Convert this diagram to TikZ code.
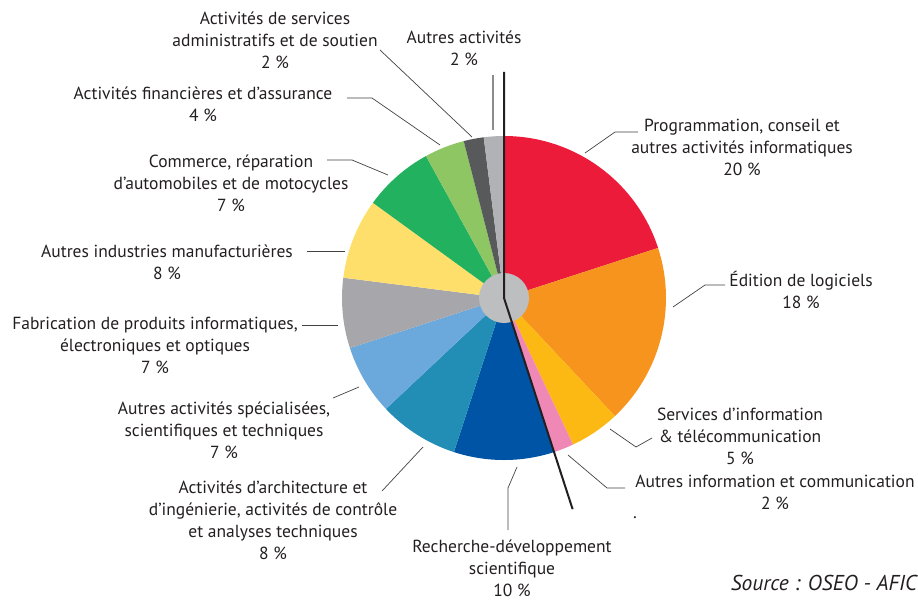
\documentclass[tikz,border=0pt]{standalone}
\usepackage{fontspec}
\usetikzlibrary{calc}
\setmainfont{PT Sans}
\definecolor{cRed}{HTML}{ED1B3A}
\definecolor{cOrange}{HTML}{F7941E}
\definecolor{cYellow}{HTML}{FDB913}
\definecolor{cPink}{HTML}{F088B5}
\definecolor{cBlue}{HTML}{0054A6}
\definecolor{cTeal}{HTML}{238EB5}
\definecolor{cLBlue}{HTML}{6BA8DC}
\definecolor{cGrey}{HTML}{A7A6AB}
\definecolor{cLYellow}{HTML}{FFDF6B}
\definecolor{cGreen}{HTML}{22B15F}
\definecolor{cLGreen}{HTML}{8DC663}
\definecolor{cDGrey}{HTML}{58595B}
\definecolor{cLGrey}{HTML}{B1B2B5}
\definecolor{cCenter}{HTML}{BCBEC0}
\definecolor{cText}{HTML}{231F20}
\tikzset{
  lbl/.style={align=center, text=cText, font=\fontsize{17.5}{22}\selectfont, inner sep=0pt},
  leader/.style={draw=cText!85, line width=0.7pt},
}
\newcommand{\pieslice}[3]{\fill[#3] (ctr) -- ++(#1:162) arc[start angle=#1, end angle=#2, radius=162] -- cycle;}
\begin{document}
\begin{tikzpicture}[x=1pt,y=-1pt]
\useasboundingbox (0,0) rectangle (918,602);
\coordinate (ctr) at (504,298);
\pieslice{-90}{-18}{cRed}
\pieslice{-18}{46.8}{cOrange}
\pieslice{46.8}{64.8}{cYellow}
\pieslice{64.8}{72}{cPink}
\pieslice{72}{108}{cBlue}
\pieslice{108}{136.8}{cTeal}
\pieslice{136.8}{162}{cLBlue}
\pieslice{162}{187.2}{cGrey}
\pieslice{187.2}{216}{cLYellow}
\pieslice{216}{241.2}{cGreen}
\pieslice{241.2}{255.6}{cLGreen}
\pieslice{255.6}{262.8}{cDGrey}
\pieslice{262.8}{270}{cLGrey}
\node[circle, fill=cCenter, minimum size=50pt, inner sep=0pt] (hub) at (ctr) {};
\coordinate (topend) at (504,72);
\coordinate (botend) at ($(ctr)+(72:222)$);
\draw[cText, line width=2pt] (topend) -- (ctr) -- (botend);

% labels
\node[lbl] (l1) at (275,40) {Activités de services\\administratifs et de soutien\\2 \%};
\node[lbl] (l2) at (464,48) {Autres activités\\2 \%};
\node[lbl] (l3) at (203,104) {Activités financières et d’assurance\\4 \%};
\node[lbl] (l4) at (231,183) {Commerce, réparation\\d’automobiles et de motocycles\\7 \%};
\node[lbl] (l5) at (167,262) {Autres industries manufacturières\\8 \%};
\node[lbl] (l6) at (155,345) {Fabrication de produits informatiques,\\électroniques et optiques\\7 \%};
\node[lbl] (l7) at (224,430) {Autres activités spécialisées,\\scientifiques et techniques\\7 \%};
\node[lbl] (l8) at (273,520) {Activités d’architecture et\\d’ingénierie, activités de contrôle\\et analyses techniques\\8 \%};
\node[lbl] (l9) at (512,568) {Recherche-développement\\scientifique\\10 \%};
\node[lbl] (l10) at (775,492) {Autres information et communication\\2 \%};
\node[lbl] (l11) at (740,436) {Services d’information\\\& télécommunication\\5 \%};
\node[lbl] (l12) at (801,290) {Édition de logiciels\\18 \%};
\node[lbl] (l13) at (742,147) {Programmation, conseil et\\autres activités informatiques\\20 \%};
\node[lbl] (dot) at (635,518) {.};
\node[lbl, anchor=east, font=\fontsize{21.5}{24}\selectfont\itshape] (src) at (917,583) {Source : OSEO - AFIC};

% leader lines
\coordinate (a1) at (380,50);  \coordinate (b1) at (472,137);
\draw[leader] (a1) -- (b1);
\coordinate (a3) at (347,98);  \coordinate (k3) at (372,98);  \coordinate (b3) at (440,145);
\draw[leader] (a3) -- (k3) -- (b3);
\coordinate (a4) at (327,160); \coordinate (k4) at (352,160); \coordinate (b4) at (388,175);
\draw[leader] (a4) -- (k4) -- (b4);
\coordinate (a5) at (307,251); \coordinate (b5) at (345,251);
\draw[leader] (a5) -- (b5);
\coordinate (a6) at (302,325); \coordinate (b6) at (338,325);
\draw[leader] (a6) -- (b6);
\coordinate (a7) at (333,398); \coordinate (b7) at (359,387);
\draw[leader] (a7) -- (b7);
\coordinate (a8) at (382,491); \coordinate (b8) at (423,447);
\draw[leader] (a8) -- (b8);
\coordinate (a9) at (508,530); \coordinate (k9) at (508,488); \coordinate (b9) at (517,467);
\draw[leader] (a9) -- (k9) -- (b9);
\coordinate (a10) at (625,488); \coordinate (k10) at (607,488); \coordinate (b10) at (568,455);
\draw[leader] (a10) -- (k10) -- (b10);
\coordinate (a11) at (652,438); \coordinate (k11) at (636,447); \coordinate (b11) at (610,429);
\draw[leader] (a11) -- (k11) -- (b11);
\coordinate (a12) at (725,285); \coordinate (k12) at (705,285); \coordinate (b12) at (673,307);
\draw[leader] (a12) -- (k12) -- (b12);
\coordinate (a13) at (638,132); \coordinate (k13) at (615,132); \coordinate (b13) at (585,153);
\draw[leader] (a13) -- (k13) -- (b13);
\coordinate (a2) at (493,75); \coordinate (b2) at (493,130);
\draw[draw=black!45, line width=1.2pt] (a2) -- (b2);
\end{tikzpicture}
\end{document}
